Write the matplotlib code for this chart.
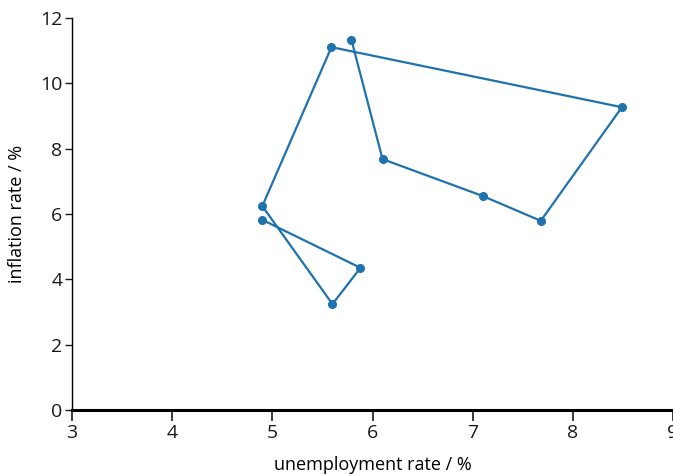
import matplotlib
matplotlib.use("Agg")
import matplotlib.pyplot as plt

unemployment = [4.9, 5.88, 5.6, 4.9, 5.59, 8.49, 7.68, 7.1, 6.1, 5.79]
inflation = [5.82, 4.35, 3.24, 6.24, 11.11, 9.27, 5.79, 6.55, 7.68, 11.33]
xticks = [3, 4, 5, 6, 7, 8, 9]
yticks = [0, 2, 4, 6, 8, 10, 12]

plt.rcParams['font.family'] = ['Open Sans', 'DejaVu Sans']

fig = plt.figure(figsize=(6.73, 4.76), dpi=100)
ax = fig.add_axes([0.107, 0.139, 0.893, 0.823])
color = '#1f72ad'
ax.plot(unemployment, inflation, color=color, lw=1.6, marker='o', ms=5.5, zorder=3, clip_on=False)

ax.set_xlim(3, 9)
ax.set_ylim(0, 12)
ax.set_xticks(xticks)
ax.set_yticks(yticks)
ax.tick_params(axis='both', labelsize=14, colors='#1a1a1a')
ax.tick_params(axis='x', length=8, width=1.2, pad=2)
ax.tick_params(axis='y', length=5, width=1.0, pad=2)
ax.spines['top'].set_visible(False)
ax.spines['right'].set_visible(False)
ax.spines['bottom'].set_linewidth(2.2)
ax.spines['left'].set_linewidth(1.0)
ax.set_xlabel('unemployment rate / %', fontsize=13, labelpad=10)
ax.set_ylabel('inflation rate / %', fontsize=13, labelpad=10)

fig.savefig('out.png', dpi=100)
